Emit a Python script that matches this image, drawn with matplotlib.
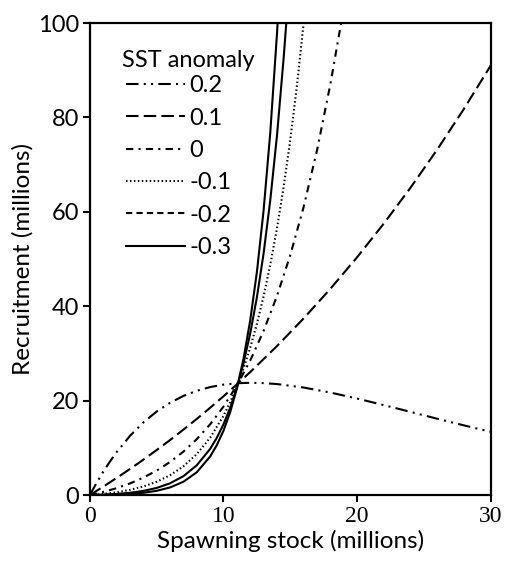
import matplotlib
matplotlib.use("Agg")
import matplotlib.pyplot as plt
from matplotlib.lines import Line2D

# stock (millions) and recruitment (millions)
s_p02 = [0, 0.5, 1, 1.5, 2, 3, 4, 5, 6, 7, 8, 9, 10, 11, 12, 13, 14, 16, 18, 20, 22, 24, 26, 28, 30]
r_p02 = [0, 2.57, 4.93, 7.09, 9.07, 12.53, 15.37, 17.69, 19.54, 20.99, 22.08, 22.87, 23.39, 23.68,
         23.78, 23.71, 23.51, 22.77, 21.71, 20.44, 19.05, 17.61, 16.16, 14.75, 13.39]

s_p01 = [0, 1, 2, 3, 4, 5, 6, 7, 8, 9, 10, 11, 12, 14, 16, 18, 20, 22, 24, 26, 28, 30]
r_p01 = [0, 1.77, 3.61, 5.51, 7.48, 9.53, 11.65, 13.85, 16.12, 18.48, 20.92, 23.44, 26.05, 31.55,
         37.42, 43.69, 50.38, 57.52, 65.12, 73.21, 81.83, 91.0]

s_0 = [0, 1, 2, 3, 4, 5, 6, 7, 8, 9, 10, 11, 12, 13, 14, 15, 16, 17, 18, 18.8, 19.0]
r_0 = [0, 0.65, 1.45, 2.45, 3.68, 5.18, 7.0, 9.19, 11.83, 14.98, 18.74, 23.21, 28.5, 34.76, 42.15,
       50.84, 61.05, 73.03, 87.05, 99.97, 103.45]

s_m01 = [0, 1, 2, 3, 4, 5, 6, 7, 8, 9, 10, 10.5, 11, 11.5, 12, 12.5, 13, 13.5, 14, 14.5, 15, 15.5, 16, 16.2]
r_m01 = [0, 0.23, 0.58, 1.09, 1.8, 2.8, 4.19, 6.08, 8.66, 12.13, 16.78, 19.66, 22.98, 26.8, 31.21,
         36.27, 42.09, 48.78, 56.44, 65.23, 75.3, 86.82, 100.0, 105.8]

s_m02 = [0, 1, 2, 3, 4, 5, 6, 7, 8, 9, 9.5, 10, 10.5, 11, 11.5, 12, 12.5, 13, 13.5, 14, 14.5, 14.7, 14.9]
r_m02 = [0, 0.08, 0.23, 0.47, 0.87, 1.5, 2.48, 3.99, 6.3, 9.77, 12.12, 14.98, 18.48, 22.74, 27.93,
         34.23, 41.89, 51.17, 62.43, 76.05, 92.52, 100.03, 108.1]

s_m03 = [0, 1, 2, 3, 4, 5, 6, 7, 8, 9, 9.5, 10, 10.5, 11, 11.5, 12, 12.5, 13, 13.5, 14, 14.05, 14.25]
r_m03 = [0, 0.03, 0.1, 0.24, 0.47, 0.89, 1.6, 2.81, 4.82, 8.16, 10.56, 13.63, 17.55, 22.55, 28.91,
         36.99, 47.25, 60.26, 76.74, 97.59, 99.96, 110.0]

labels = ["0.2", "0.1", "0", "-0.1", "-0.2", "-0.3"]

sans = "Lato"
lw = 1.5
styles = [(0, (6, 2.5, 1, 2.5, 1, 2.5)), (0, (6, 2.5)), (0, (3.5, 2.5, 1, 2.5)),
          (0, (0.7, 1.2)), (0, (3, 2)), "-"]

fig = plt.figure(figsize=(5.05, 5.62), dpi=100)
ax = fig.add_axes([0.178, 0.1192, 0.7937, 0.8398])

series = [(s_p02, r_p02), (s_p01, r_p01), (s_0, r_0), (s_m01, r_m01), (s_m02, r_m02), (s_m03, r_m03)]
for i, (s, r) in enumerate(series):
    ls = styles[i] if i != 4 else "-"  # steep part of -0.2 looks solid in the original
    ax.plot(s, r, color="black", lw=lw, linestyle=ls)

ax.set_xlim(0, 30)
ax.set_ylim(0, 100)
ax.set_xticks([0, 10, 20, 30])
ax.set_yticks([0, 20, 40, 60, 80, 100])

for sp in ax.spines.values():
    sp.set_linewidth(1.6)
ax.tick_params(direction="out", length=5, width=1.5, pad=3)
for t in ax.get_xticklabels():
    t.set_fontfamily("Liberation Serif")
    t.set_fontsize(17)
for t in ax.get_yticklabels():
    t.set_fontfamily(sans)
    t.set_fontsize(17)

ax.set_xlabel("Spawning stock (millions)", fontsize=17.5, family=sans, labelpad=2)
ax.set_ylabel("Recruitment (millions)", fontsize=17.5, family=sans, labelpad=3)

ax.text(0.08, 0.907, "SST anomaly", transform=ax.transAxes, fontsize=17, family=sans,
        va="baseline", ha="left")
handles = [Line2D([], [], color="black", lw=lw, linestyle=st) for st in styles]
leg = ax.legend(handles, labels, loc="upper left", bbox_to_anchor=(0.09, 0.889),
                frameon=False, fontsize=17, handlelength=2.5, handletextpad=0.2,
                labelspacing=0.48, borderaxespad=0, borderpad=0)
for t in leg.get_texts():
    t.set_fontfamily(sans)

fig.savefig("out.png", dpi=100)
